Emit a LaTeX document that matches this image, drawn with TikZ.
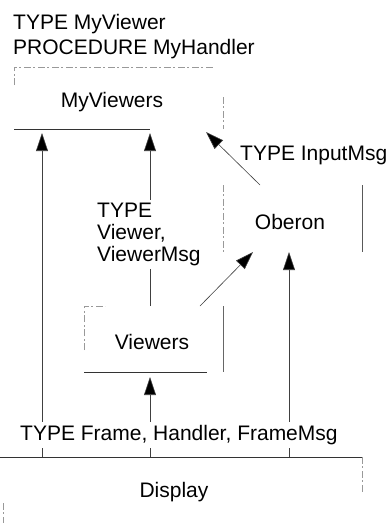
\documentclass[tikz,border=0pt]{standalone}
\usepackage{fontspec}
\setmainfont{Liberation Sans}
\usetikzlibrary{arrows.meta}
\begin{document}
\begin{tikzpicture}[x=1pt,y=-1pt,
  lbl/.style={font=\fontsize{21}{22}\selectfont, inner sep=0pt},
  cover/.style={lbl, fill=white, inner sep=3pt},
  faint/.style={draw=black!40, line width=0.6pt, dash pattern=on 7pt off 2pt on 2pt off 3pt},
  edge/.style={draw=black!80, line width=0.7pt},
  arr/.style={draw=black!75, line width=0.6pt, -{Triangle[length=18pt,width=12pt,fill=black]}}]
\useasboundingbox (0,0) rectangle (387,523);

% box corner / connector coordinates
\coordinate (myvB1) at (42,133);
\coordinate (myvB2) at (150,133);
\coordinate (myvB3) at (206,132);
\coordinate (obT) at (260,185);
\coordinate (obB1) at (253,252);
\coordinate (obB2) at (289,252);
\coordinate (viT1) at (150,306);
\coordinate (viT2) at (200,306);
\coordinate (viB) at (150,377);
\coordinate (diT1) at (42,457);
\coordinate (diT2) at (150,457);
\coordinate (diT3) at (289,457);

% MyViewers box
\draw[faint] (14,85) -- (14,67) -- (213,67);
\draw[edge] (14,129) -- (150,129);
\draw[faint] (223,97) -- (223,129);
% Oberon box
\draw[faint] (223,185) -- (223,252);
\draw[edge, draw=black!65] (362,185) -- (362,252);
% Viewers box
\draw[faint] (84,350) -- (84,306) -- (105,306);
\draw[edge, draw=black!60] (223,306) -- (223,372);
\draw[edge] (84,372) -- (207,372);
% Display box
\draw[edge] (0,457) -- (362,457);
\draw[faint] (362,457) -- (362,492);
\draw[faint] (3,503) -- (3,523);

% connectors
\draw[arr] (diT1) -- (myvB1);
\draw[arr] (viT1) -- (myvB2);
\draw[arr] (obT) -- (myvB3);
\draw[arr] (viT2) -- (obB1);
\draw[arr] (diT3) -- (obB2);
\draw[arr] (diT2) -- (viB);

% texts
\node[lbl, anchor=base west] (t1) at (13,29.5) {TYPE MyViewer};
\node[lbl, anchor=base west] (t2) at (13,54.5) {PROCEDURE MyHandler};
\node[lbl, anchor=base] (myv) at (112,107.5) {MyViewers};
\node[lbl, anchor=base west] (tin) at (240,160.5) {TYPE InputMsg};
\node[cover, anchor=north west, align=left] (tvw) at (94,199.5) {TYPE\\Viewer,\\ViewerMsg};
\node[lbl, anchor=base] (ob) at (290,229.5) {Oberon};
\node[lbl, anchor=base] (vi) at (152,349.5) {Viewers};
\node[cover, anchor=base west] (tfr) at (17,440.5) {TYPE Frame, Handler, FrameMsg};
\node[lbl, anchor=base] (di) at (174,497.5) {Display};
\end{tikzpicture}
\end{document}
